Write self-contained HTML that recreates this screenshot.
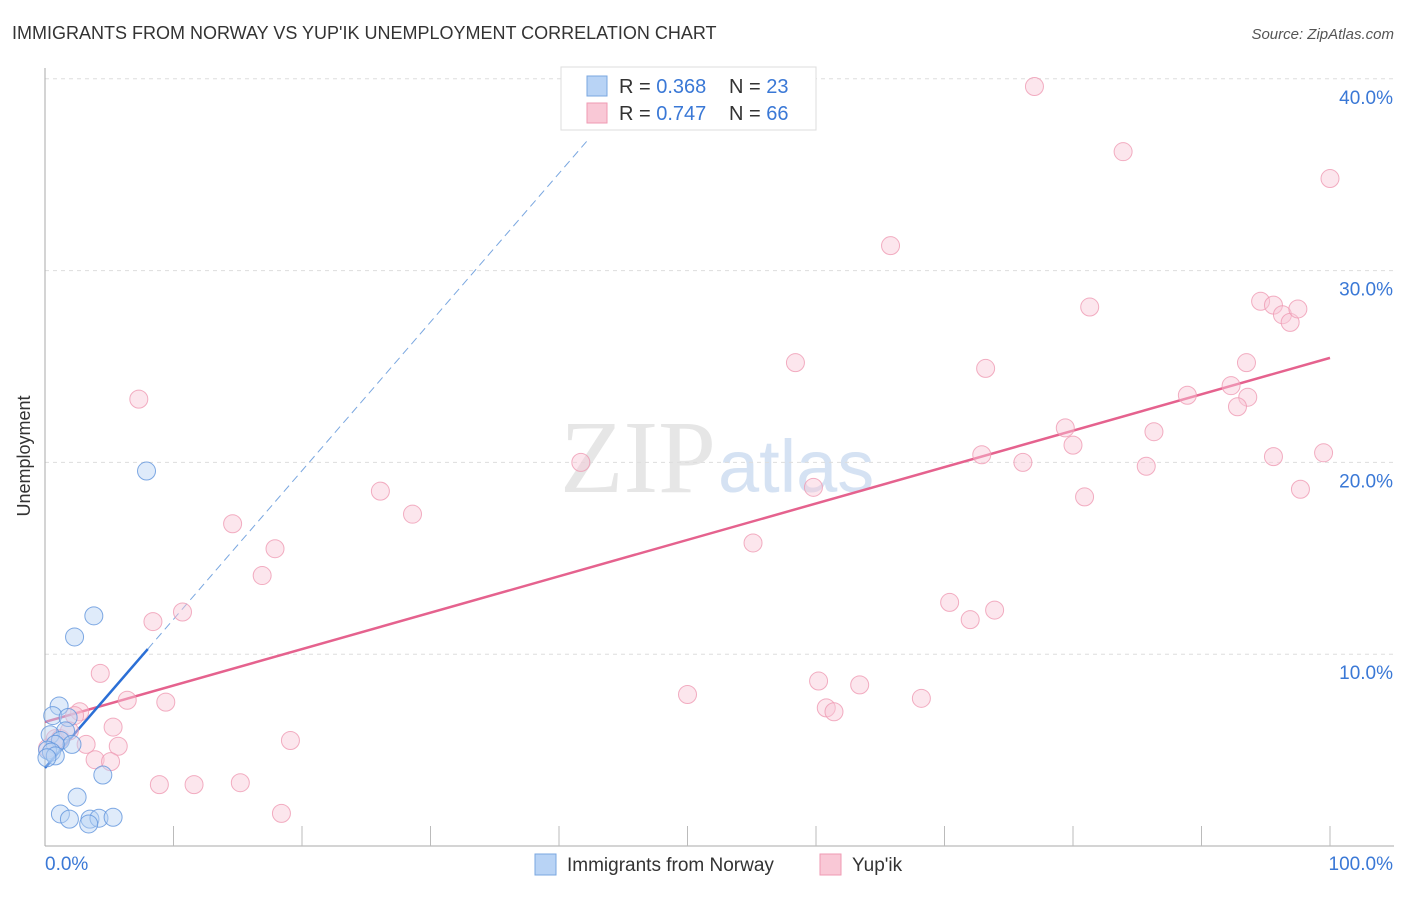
<!DOCTYPE html>
<html><head><meta charset="utf-8"><style>
body{margin:0;background:#fff;font-family:"Liberation Sans",sans-serif;}
</style></head><body>
<svg width="1406" height="892" xmlns="http://www.w3.org/2000/svg" style="font-family:'Liberation Sans',sans-serif">
<text x="12" y="39" font-size="18" fill="#333">IMMIGRANTS FROM NORWAY VS YUP'IK UNEMPLOYMENT CORRELATION CHART</text>
<text x="1394" y="39" font-size="15" fill="#555" text-anchor="end" font-style="italic">Source: ZipAtlas.com</text>
<text x="30" y="456" font-size="18" fill="#333" text-anchor="middle" transform="rotate(-90 30 456)">Unemployment</text>
<text x="716" y="492" font-size="104" fill="#e6e6e6" text-anchor="end" font-family="Liberation Serif,serif">ZIP</text>
<text x="718" y="492" font-size="74" fill="#d5e2f3">atlas</text>
<g id="grid"></g><g id="axes"></g><g id="trends"></g><g id="pts"></g>
<g>
<rect x="561" y="67" width="255" height="63" fill="#fff" stroke="#ddd"/>
<rect x="587" y="76" width="20" height="20" fill="#b8d3f5" stroke="#7aa7e0"/>
<text x="619" y="93" font-size="20" fill="#333">R = <tspan fill="#3a78d6">0.368</tspan></text>
<text x="729" y="93" font-size="20" fill="#333">N = <tspan fill="#3a78d6">23</tspan></text>
<rect x="587" y="103" width="20" height="20" fill="#f9c8d6" stroke="#ef9ab3"/>
<text x="619" y="120" font-size="20" fill="#333">R = <tspan fill="#3a78d6">0.747</tspan></text>
<text x="729" y="120" font-size="20" fill="#333">N = <tspan fill="#3a78d6">66</tspan></text>
</g>
<g>
<rect x="535" y="854" width="21" height="21" fill="#b8d3f5" stroke="#7aa7e0"/>
<text x="567" y="871" font-size="19" fill="#333">Immigrants from Norway</text>
<rect x="820" y="854" width="21" height="21" fill="#f9c8d6" stroke="#ef9ab3"/>
<text x="852" y="871" font-size="19" fill="#333">Yup'ik</text>
</g>
</svg>
<script>
const yTicks=[10,20,30,40];
const xTickLabels=["0.0%","100.0%"];
const blueX=[7.9,3.8,2.3,1.1,0.6,1.8,1.6,0.4,1.2,2.1,0.8,0.2,0.5,0.8,0.15,4.5,2.5,1.2,1.9,3.5,4.2,5.3,3.4];
const blueY=[19.55,12.0,10.9,7.3,6.8,6.7,6.0,5.8,5.5,5.3,5.3,5.0,4.9,4.7,4.6,3.7,2.55,1.67,1.4,1.4,1.45,1.5,1.15];
const pinkX=[77.0,83.9,100,65.8,81.3,94.6,95.6,96.3,96.9,97.5,58.4,73.2,93.5,92.3,88.9,93.6,92.8,79.4,86.3,80.0,72.9,95.6,99.5,76.1,85.7,41.7,59.8,80.9,97.7,26.1,28.6,7.3,14.6,55.1,17.9,16.9,70.4,73.9,72.0,10.7,8.4,4.3,50.0,60.2,63.4,68.2,60.8,61.4,6.4,9.4,2.7,2.3,5.3,19.1,3.2,5.7,3.9,5.1,8.9,11.6,15.2,18.4,0.8,0.2,1.2,1.9];
const pinkY=[39.6,36.2,34.8,31.3,28.1,28.4,28.2,27.7,27.3,28.0,25.2,24.9,25.2,24.0,23.5,23.4,22.9,21.8,21.6,20.9,20.4,20.3,20.5,20.0,19.8,20.0,18.7,18.2,18.6,18.5,17.3,23.3,16.8,15.8,15.5,14.1,12.7,12.3,11.8,12.2,11.7,9.0,7.9,8.6,8.4,7.7,7.2,7.0,7.6,7.5,7.0,6.8,6.2,5.5,5.3,5.2,4.5,4.4,3.2,3.2,3.3,1.7,5.6,5.1,5.6,6.0];
const blueTrend=[4.07,0.775]; // intercept, slope
const pinkTrend=[6.47,0.1898];
const NS="http://www.w3.org/2000/svg";
const X=v=>45+v*12.85, Y=v=>846-v*19.18;
function mk(t,a,p){const e=document.createElementNS(NS,t);for(const k in a)e.setAttribute(k,a[k]);p.appendChild(e);return e;}
const grid=document.getElementById('grid'),axes=document.getElementById('axes'),tr=document.getElementById('trends'),pts=document.getElementById('pts');
yTicks.forEach(t=>{
 const l=mk('line',{x1:45,x2:1394,y1:Y(t),y2:Y(t),stroke:'#ddd','stroke-dasharray':'4,4'},grid);
 
 
 const tx=mk('text',{x:1393,y:Y(t)+25,'font-size':19,fill:'#3a78d6','text-anchor':'end'},grid);
 tx.textContent=t.toFixed(1)+'%';
 
 
});
const ya=mk('line',{x1:45,x2:45,y1:68,y2:846,stroke:'#aaa'},axes);


const xa=mk('line',{x1:45,x2:1394,y1:846,y2:846,stroke:'#aaa'},axes);


for(let i=1;i<=10;i++){const t=mk('line',{x1:X(i*10),x2:X(i*10),y1:826,y2:846,stroke:'#bbb'},axes);
 
 }
[[0,'start',45],[100,'end',1393]].forEach((d,i)=>{const t=mk('text',{x:d[2],y:870,'font-size':19,fill:'#3a78d6','text-anchor':d[1]},axes);t.textContent=xTickLabels[i];
 
 });
function drawPts(xs,ys,fill,stroke,name){xs.forEach((x,i)=>{const c=mk('circle',{cx:X(x),cy:Y(ys[i]),r:9,fill:fill,'fill-opacity':0.45,stroke:stroke,'stroke-opacity':0.8,'stroke-width':1},pts);
 
 });}
drawPts(pinkX,pinkY,'#f9c8d6','#ef9ab3','yupik-point');
drawPts(blueX,blueY,'#b8d3f5','#5f93dc','norway-point');
const pl=mk('line',{x1:X(0),y1:Y(pinkTrend[0]),x2:X(100),y2:Y(pinkTrend[0]+100*pinkTrend[1]),stroke:'#e5628e','stroke-width':2.5},tr);


const bl=mk('line',{x1:X(0),y1:Y(blueTrend[0]),x2:X(8),y2:Y(blueTrend[0]+8*blueTrend[1]),stroke:'#2b6fd6','stroke-width':2.5},tr);


const bd=mk('line',{x1:X(8),y1:Y(blueTrend[0]+8*blueTrend[1]),x2:X(42.4),y2:Y(blueTrend[0]+42.4*blueTrend[1]),stroke:'#7aa7e0','stroke-width':1,'stroke-dasharray':'8,5'},tr);


</script>
</body></html>
